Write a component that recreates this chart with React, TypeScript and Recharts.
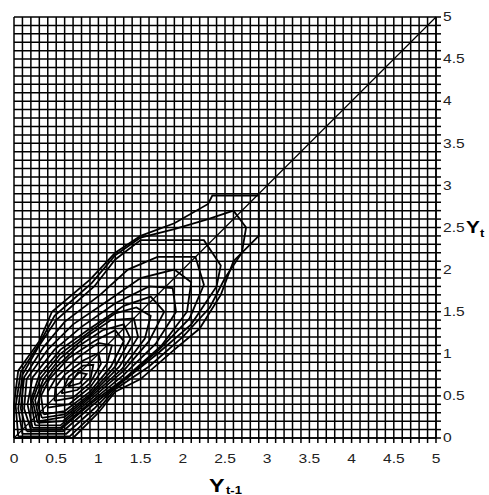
import { ScatterChart, Scatter, XAxis, YAxis, CartesianGrid, ReferenceLine } from 'recharts';

// grid every 0.1, labels every 0.5
const gridTicks = [
  0, 0.1, 0.2, 0.3, 0.4, 0.5, 0.6, 0.7, 0.8, 0.9,
  1, 1.1, 1.2, 1.3, 1.4, 1.5, 1.6, 1.7, 1.8, 1.9,
  2, 2.1, 2.2, 2.3, 2.4, 2.5, 2.6, 2.7, 2.8, 2.9,
  3, 3.1, 3.2, 3.3, 3.4, 3.5, 3.6, 3.7, 3.8, 3.9,
  4, 4.1, 4.2, 4.3, 4.4, 4.5, 4.6, 4.7, 4.8, 4.9, 5,
];
const labelTicks = ['0', '0.5', '1', '1.5', '2', '2.5', '3', '3.5', '4', '4.5', '5'];

const diagonal = [
  { x: 0, y: 0 },
  { x: 5, y: 5 },
];

type Pt = [number, number];

// density contours, outermost first
const contour1: Pt[] = [
  [0, 0], [0.7, 0], [1.0, 0.3], [1.2, 0.55], [1.5, 0.7], [1.9, 1.05], [2.2, 1.3], [2.45, 1.7],
  [2.6, 2.1], [2.9, 2.4], [2.9, 2.88], [2.35, 2.88], [2.3, 2.78], [1.9, 2.55], [1.5, 2.4],
  [1.2, 2.2], [0.9, 1.88], [0.45, 1.5], [0.3, 1.15], [0.05, 0.8], [0, 0.4], [0, 0],
];
const contour2: Pt[] = [
  [0.05, 0.02], [0.66, 0.02], [0.98, 0.32], [1.2, 0.58], [1.6, 0.85], [2.0, 1.2], [2.32, 1.55],
  [2.5, 1.9], [2.7, 2.2], [2.75, 2.5], [2.6, 2.7], [2.3, 2.6], [1.9, 2.48], [1.5, 2.38],
  [1.2, 2.17], [0.92, 1.84], [0.48, 1.45], [0.3, 1.12], [0.08, 0.78], [0.02, 0.38], [0.05, 0.02],
];
const contour3: Pt[] = [
  [0.1, 0.05], [0.62, 0.05], [0.95, 0.35], [1.2, 0.6], [1.7, 1.0], [2.1, 1.35], [2.4, 1.8],
  [2.45, 2.05], [2.25, 2.35], [1.5, 2.35], [1.2, 2.12], [0.95, 1.8], [0.5, 1.4], [0.3, 1.1],
  [0.1, 0.75], [0.05, 0.35], [0.1, 0.05],
];
const contour4: Pt[] = [
  [0.15, 0.08], [0.58, 0.08], [0.92, 0.38], [1.25, 0.65], [1.72, 1.05], [2.08, 1.42], [2.25, 1.82],
  [2.15, 2.15], [1.7, 2.15], [1.35, 2.0], [1.02, 1.7], [0.6, 1.38], [0.35, 1.08], [0.12, 0.72],
  [0.08, 0.35], [0.15, 0.08],
];
const contour5: Pt[] = [
  [0.2, 0.1], [0.55, 0.1], [0.9, 0.4], [1.3, 0.7], [1.75, 1.1], [2.05, 1.5], [2.1, 1.85],
  [1.9, 2.0], [1.5, 1.9], [1.1, 1.62], [0.7, 1.35], [0.4, 1.05], [0.15, 0.7], [0.12, 0.35], [0.2, 0.1],
];
const contour6: Pt[] = [
  [0.22, 0.12], [0.55, 0.12], [0.9, 0.42], [1.3, 0.75], [1.68, 1.12], [1.92, 1.5], [1.88, 1.78],
  [1.6, 1.8], [1.2, 1.6], [0.8, 1.32], [0.48, 1.05], [0.22, 0.72], [0.16, 0.4], [0.22, 0.12],
];
const contour7: Pt[] = [
  [0.25, 0.15], [0.55, 0.15], [0.9, 0.45], [1.3, 0.8], [1.6, 1.15], [1.78, 1.5], [1.62, 1.68],
  [1.3, 1.57], [0.9, 1.3], [0.55, 1.05], [0.3, 0.75], [0.2, 0.45], [0.25, 0.15],
];
const contour8: Pt[] = [
  [0.28, 0.18], [0.58, 0.2], [0.9, 0.48], [1.28, 0.82], [1.55, 1.18], [1.62, 1.45], [1.45, 1.55],
  [1.2, 1.48], [0.88, 1.25], [0.55, 1.0], [0.32, 0.72], [0.22, 0.45], [0.28, 0.18],
];
const contour9: Pt[] = [
  [0.3, 0.2], [0.6, 0.25], [0.9, 0.5], [1.25, 0.85], [1.47, 1.2], [1.42, 1.42], [1.15, 1.4],
  [0.85, 1.2], [0.55, 0.95], [0.35, 0.7], [0.25, 0.45], [0.3, 0.2],
];
const contour10: Pt[] = [
  [0.33, 0.24], [0.6, 0.28], [0.9, 0.52], [1.2, 0.85], [1.38, 1.18], [1.3, 1.35], [1.05, 1.28],
  [0.75, 1.08], [0.48, 0.82], [0.33, 0.6], [0.28, 0.4], [0.33, 0.24],
];
const contour11: Pt[] = [
  [0.35, 0.28], [0.6, 0.32], [0.9, 0.55], [1.15, 0.85], [1.3, 1.15], [1.2, 1.28], [0.95, 1.15],
  [0.65, 0.95], [0.42, 0.7], [0.32, 0.5], [0.35, 0.28],
];
const contour12: Pt[] = [
  [0.4, 0.36], [0.65, 0.4], [0.9, 0.6], [1.1, 0.88], [1.16, 1.1], [1.0, 1.13], [0.75, 0.95],
  [0.5, 0.72], [0.4, 0.55], [0.4, 0.36],
];
const contour13: Pt[] = [
  [0.48, 0.44], [0.7, 0.48], [0.9, 0.65], [1.03, 0.88], [1.0, 1.01], [0.82, 0.92], [0.6, 0.75],
  [0.49, 0.6], [0.48, 0.44],
];
const contour14: Pt[] = [
  [0.56, 0.53], [0.75, 0.57], [0.91, 0.72], [0.94, 0.87], [0.82, 0.86], [0.65, 0.73], [0.56, 0.53],
];
const contour15: Pt[] = [
  [0.64, 0.61], [0.78, 0.65], [0.86, 0.76], [0.76, 0.78], [0.64, 0.61],
];

const contours = [
  contour1, contour2, contour3, contour4, contour5, contour6, contour7, contour8,
  contour9, contour10, contour11, contour12, contour13, contour14, contour15,
];

const FONT = "'Liberation Sans', Arial, sans-serif";
const STRETCH = 1.3;

const isLabel = (v: number) => labelTicks.includes(String(v));

const XTick = (props: any) => {
  const { x, y, payload } = props;
  if (!isLabel(payload.value)) return null;
  return (
    <text
      transform={`translate(${x},${y}) scale(${STRETCH},1)`}
      textAnchor="middle"
      dy="0.71em"
      fontSize={12}
      fontFamily={FONT}
      fill="#222"
    >
      {String(payload.value)}
    </text>
  );
};

const YTick = (props: any) => {
  const { x, y, payload } = props;
  if (!isLabel(payload.value)) return null;
  return (
    <text
      transform={`translate(${x},${y}) scale(${STRETCH},1)`}
      textAnchor="start"
      dy="0.355em"
      fontSize={12}
      fontFamily={FONT}
      fill="#222"
    >
      {String(payload.value)}
    </text>
  );
};

export default function App() {
  return (
    <div style={{ position: 'absolute', left: 0, top: 0, width: 489, height: 495, background: '#fff' }}>
      <ScatterChart width={489} height={495} margin={{ top: 17, right: 0, bottom: 0, left: 14 }}>
        <CartesianGrid stroke="#000" strokeWidth={1.5} fill="none" />
        <XAxis
          type="number"
          dataKey="x"
          domain={[0, 5]}
          ticks={gridTicks}
          interval={0}
          height={57}
          tickSize={5}
          tickMargin={11}
          axisLine={{ stroke: '#000', strokeWidth: 1.5 }}
          tickLine={{ stroke: '#000', strokeWidth: 1.5 }}
          tick={<XTick />}
        />
        <YAxis
          type="number"
          dataKey="y"
          orientation="right"
          domain={[0, 5]}
          ticks={gridTicks}
          interval={0}
          width={53}
          tickSize={5}
          tickMargin={2}
          axisLine={{ stroke: '#000', strokeWidth: 1.5 }}
          tickLine={{ stroke: '#000', strokeWidth: 1.5 }}
          tick={<YTick />}
        />
        <ReferenceLine segment={diagonal} stroke="#000" strokeWidth={1.2} ifOverflow="visible" />
        {contours.map((c, i) => (
          <Scatter
            key={i}
            data={c.map(([x, y]) => ({ x, y }))}
            line={{ stroke: '#000', strokeWidth: 1.8 }}
            lineType="joint"
            shape={() => <g />}
            fill="#000"
            isAnimationActive={false}
          />
        ))}
      </ScatterChart>
      <svg
        width={489}
        height={495}
        style={{ position: 'absolute', left: 0, top: 0, pointerEvents: 'none' }}
      >
        <text transform={`translate(466,233) scale(${STRETCH},1)`} fontSize={16} fontWeight="bold" fontFamily={FONT} fill="#000">
          Y
        </text>
        <text transform={`translate(480,237) scale(${STRETCH},1)`} fontSize={10} fontWeight="bold" fontFamily={FONT} fill="#000">
          t
        </text>
        <text transform={`translate(209,492) scale(${STRETCH},1)`} fontSize={18} fontWeight="bold" fontFamily={FONT} fill="#000">
          Y
        </text>
        <text transform={`translate(226,494) scale(${STRETCH},1)`} fontSize={10} fontWeight="bold" fontFamily={FONT} fill="#000">
          t-1
        </text>
      </svg>
    </div>
  );
}
